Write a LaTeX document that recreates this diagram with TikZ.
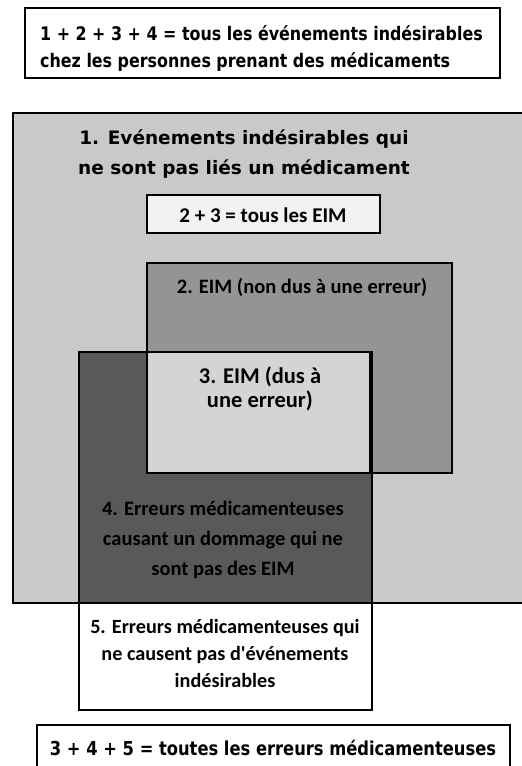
\documentclass[tikz,border=0pt]{standalone}
\usepackage{fontspec}
\newfontfamily\calib{Carlito}
\newfontfamily\verd{DejaVu Sans}
\newfontfamily\verdc[FakeStretch=0.85]{DejaVu Sans}
\definecolor{gA}{HTML}{C9C9C9}
\definecolor{gB}{HTML}{949494}
\definecolor{gC}{HTML}{D4D4D4}
\definecolor{gD}{HTML}{595959}
\definecolor{gE}{HTML}{F2F2F2}

\begin{document}
\begin{tikzpicture}[x=1pt,y=-1pt,
    box/.style={draw=black,line width=1.6pt},
    lab/.style={align=center,inner sep=0pt,font=\calib\bfseries\fontsize{20.5}{30}\selectfont},
    sum/.style={align=left,inner sep=0pt,font=\verdc\bfseries\fontsize{18.7}{27}\selectfont}]
  \clip (0,0) rectangle (522,766);

  \draw[box] (25,8) rectangle (500,78);
  \node[sum,anchor=west] (total) at (40,48)
    {1 + 2 + 3 + 4 = tous les événements indésirables\\chez les personnes prenant des médicaments};

  \draw[box,line width=2pt,fill=gA] (13,113) rectangle (540,603);
  \node[align=center,inner sep=0pt,font=\verd\bfseries\fontsize{18.5}{30}\selectfont] (one) at (244,154)
    {1. Evénements indésirables qui\\ne sont pas liés un médicament};

  \draw[box,fill=gE] (147,195) rectangle (380,233);
  \node[lab,font=\calib\bfseries\fontsize{21}{25}\selectfont] (tous) at (263,215) {2 + 3 = tous les EIM};

  \draw[box,fill=gB] (147,263) rectangle (452,473);
  \node[lab] (two) at (302,287) {2. EIM (non dus à une erreur)};

  \draw[box,fill=gD] (79,352) rectangle (372,603);
  \draw[box,fill=gC] (147,352) rectangle (370,473);
  \node[lab,font=\calib\bfseries\fontsize{22.5}{23.5}\selectfont] (three) at (260,389)
    {3. EIM (dus à\\une erreur)};
  \node[lab] (four) at (223,540)
    {4. Erreurs médicamenteuses\\causant un dommage qui ne\\sont pas des EIM};

  \draw[box,fill=white] (79,603) rectangle (372,710);
  \node[lab,font=\calib\bfseries\fontsize{20.2}{27}\selectfont] (five) at (225,653)
    {5. Erreurs médicamenteuses qui\\ne causent pas d'événements\\indésirables};

  \draw[box] (37,725) rectangle (510,790);
  \node[sum,font=\verdc\bfseries\fontsize{19.2}{27}\selectfont] (errs) at (273,748)
    {3 + 4 + 5 = toutes les erreurs médicamenteuses};
\end{tikzpicture}
\end{document}
